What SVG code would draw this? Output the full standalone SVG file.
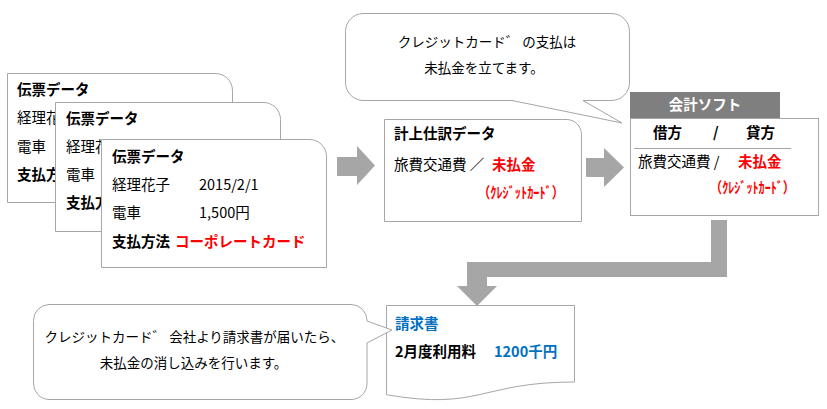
<svg xmlns="http://www.w3.org/2000/svg" width="827" height="409" viewBox="0 0 827 409">
<style>
text{font-family:"Noto Sans CJK JP","Noto Sans",sans-serif;fill:#000;}
.t{font-size:14.5px;}
.b{font-weight:bold;}
.red{fill:#ff0000;font-weight:bold;}
.blue{fill:#0070c0;font-weight:bold;}
.s{font-size:13.5px;}
.card{fill:#fff;stroke:#a6a6a6;stroke-width:1;}
.arrow{fill:#a6a6a6;stroke:none;}
</style>
<defs>
<clipPath id="c1"><rect x="0" y="0" width="55" height="409"/></clipPath>
<clipPath id="c2"><rect x="0" y="0" width="101" height="409"/></clipPath>
</defs>
<rect width="827" height="409" fill="#fff"/>
<g id="card1">
<path class="card" d="M7.5,73.5 H215 A17,17 0 0 1 232.5,90.5 V202.5 H7.5 Z"/>
<text class="t b" x="17" y="95">伝票データ</text>
<g clip-path="url(#c1)">
<text class="t" x="17" y="123">経理花</text>
<text class="t" x="17" y="152">電車</text>
<text class="t b" x="17" y="180">支払方</text>
</g>
</g>
<g id="card2">
<path class="card" d="M55.5,102.5 H263 A17,17 0 0 1 280.5,119.5 V231.5 H55.5 Z"/>
<text class="t b" x="66" y="124">伝票データ</text>
<g clip-path="url(#c2)">
<text class="t" x="66" y="152">経理花</text>
<text class="t" x="66" y="180">電車</text>
<text class="t b" x="66" y="208">支払方</text>
</g>
</g>
<g id="card3">
<path class="card" d="M101.5,139.5 H309 A17,17 0 0 1 326.5,156.5 V267.5 H101.5 Z"/>
<text class="t b" x="112" y="162">伝票データ</text>
<text class="t" x="112" y="190">経理花子</text>
<text class="t" x="199" y="190">2015/2/1</text>
<text class="t" x="112" y="218">電車</text>
<text class="t" x="199" y="218">1,500円</text>
<text class="t b" x="112" y="247">支払方法</text>
<text class="t red" x="175" y="247">コーポレートカード</text>
</g>
<g id="bubble-top">
<path class="card" d="M363,13.5 H611 A18,18 0 0 1 629.5,31.5 V82 A18,18 0 0 1 611,100.5 H583 L622,123 L512,100.5 H363 A18,18 0 0 1 345.5,82 V31.5 A18,18 0 0 1 363,13.5 Z"/>
<text class="s" x="487" y="47" text-anchor="middle">クレジットカード゛ の支払は</text>
<text class="s" x="484" y="73" text-anchor="middle">未払金を立てます。</text>
</g>
<g id="journal">
<path class="card" d="M384.5,119.5 H566 A15,15 0 0 1 581.5,134.5 V221.5 H384.5 Z"/>
<text class="t b" x="394" y="139">計上仕訳データ</text>
<text class="t" x="394" y="170">旅費交通費 ／</text>
<text class="t red" x="492" y="170">未払金</text>
<text class="red" x="478" y="198" font-size="15" textLength="86" lengthAdjust="spacingAndGlyphs">（ｸﾚｼﾞｯﾄｶｰﾄﾞ）</text>
</g>
<g id="software">
<rect x="630.5" y="118.5" width="188" height="97" fill="#fff" stroke="#a6a6a6"/>
<rect x="630" y="92" width="150" height="26" fill="#7f7f7f"/>
<text class="t b" x="705" y="110" text-anchor="middle" style="fill:#fff">会計ソフト</text>
<text class="t b" x="653" y="138">借方</text>
<text class="t b" x="713" y="138">/</text>
<text class="t b" x="746" y="138">貸方</text>
<line x1="634" y1="148.5" x2="791" y2="148.5" stroke="#a6a6a6"/>
<text class="t" x="638" y="167">旅費交通費 /</text>
<text class="t red" x="738" y="167">未払金</text>
<text class="red" x="710" y="193" font-size="15" textLength="85" lengthAdjust="spacingAndGlyphs">（ｸﾚｼﾞｯﾄｶｰﾄﾞ）</text>
</g>
<g id="invoice">
<path class="card" d="M386.5,305.5 H574.5 V382 C480,382 480,411 386.5,394.7 Z"/>
<text class="t blue" x="395" y="329">請求書</text>
<text class="t b" x="395" y="357">2月度利用料</text>
<text class="t blue" x="494" y="357">1200千円</text>
</g>
<g id="bubble-bottom">
<path class="card" d="M49,304.5 H351 A16,16 0 0 1 367,320.5 V321 L392,330 L367,343 V383 A16,16 0 0 1 351,399.5 H49 A16,16 0 0 1 33.5,383 V320.5 A16,16 0 0 1 49,304.5 Z"/>
<text class="s" x="194.5" y="342" text-anchor="middle">クレジットカード゛ 会社より請求書が届いたら、</text>
<text class="s" x="193.5" y="368" text-anchor="middle">未払金の消し込みを行います。</text>
</g>
<g id="connectors">
<path class="arrow" d="M337,157 H357 V146 L375,165.5 L357,185 V176 H337 Z"/>
<path class="arrow" d="M586,158 H604 V148 L624,167.5 L604,187 V177 H586 Z"/>
<path class="arrow" d="M711,220 H727 V277 H487 V286 H497 L477,306 L457,286 H467 V262 H711 Z"/>
</g>
</svg>
